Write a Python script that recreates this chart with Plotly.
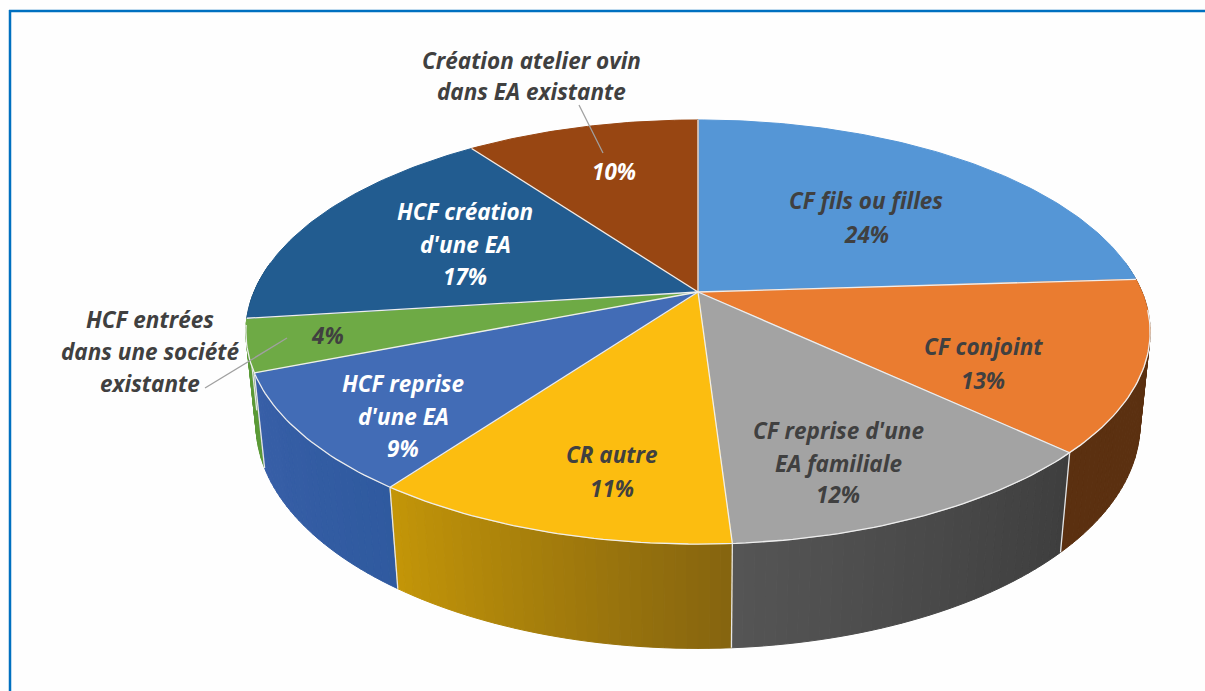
import math
import plotly.graph_objects as go

# ---- data ----
categories = ["CF fils ou filles", "CF conjoint", "CF reprise d'une EA familiale", "CR autre",
              "HCF reprise d'une EA", "HCF entrées dans une société existante",
              "HCF création d'une EA", "Création atelier ovin dans EA existante"]
values = [24, 13, 12, 11, 9, 4, 17, 10]
top_colors = ["#5596d6", "#ea7c30", "#a3a3a3", "#fcbd10", "#426cb6", "#6eaa45", "#225c90", "#984612"]
# wall shade at the slice's right-hand and left-hand screen ends
wall_start = ["#2f5a85", "#5b3010", "#3e3e3e", "#85640f", "#2f5a9f", "#5c9a38", "#16405f", "#5b3010"]
wall_end = ["#2f5a85", "#5b3010", "#555555", "#c49608", "#385fa8", "#5c9a38", "#16405f", "#5b3010"]

label_lines = [["CF fils ou filles", "24%"], ["CF conjoint", "13%"],
               ["CF reprise d'une", "EA familiale", "12%"], ["CR autre", "11%"],
               ["HCF reprise", "d'une EA", "9%"], ["4%"],
               ["HCF création", "d'une EA", "17%"], ["10%"]]
outside_lines = [["HCF entrées", "dans une société", "existante"],
                 ["Création atelier ovin", "dans EA existante"]]

# ---- layout of the picture ----
CX, CY, A, B, E = 698, 292, 444, 204.5, 0.1887
HEIGHT, WK = 92.5, 0.022
DARK, WHITE = "#404040", "#ffffff"
SEAM = "#eeeeee"
label_pos = [[(866, 200), (866, 234)], [(983, 346), (983, 380)],
             [(838, 430), (838, 463), (838, 494)], [(612, 454), (612, 488)],
             [(403, 383), (403, 416), (403, 448)], [(327, 335)],
             [(465, 211), (465, 244), (465, 276)], [(614, 171)]]
label_color = [DARK, DARK, DARK, DARK, WHITE, DARK, WHITE, WHITE]
outside_pos = [[(150, 319), (150, 351), (150, 383)], [(531, 60), (531, 91)]]
leaders = [((205, 388), (287, 338)), ((579, 105), (603, 153))]


def top(t):
    X, Y = math.sin(t), math.cos(t)
    w = 1 + E * Y
    return CX + A * X / w, CY - B * Y / w


def bottom(t):
    X, Y = math.sin(t), math.cos(t)
    w = 1 + E * Y + WK
    return CX + A * X / w, CY + (HEIGHT - B * Y) / w


def mix(c1, c2, f):
    a = [int(c1[i:i + 2], 16) for i in (1, 3, 5)]
    b = [int(c2[i:i + 2], 16) for i in (1, 3, 5)]
    return "rgb(%d,%d,%d)" % tuple(round(p + (q - p) * f) for p, q in zip(a, b))


total = sum(values)
bounds = [0]
for v in values:
    bounds.append(bounds[-1] + v / total * 2 * math.pi)

fig = go.Figure()


def poly(xs, ys, fill):
    fig.add_trace(go.Scatter(x=xs, y=ys, mode="lines", fill="toself", fillcolor=fill,
                             line=dict(color=fill, width=1), hoverinfo="skip", showlegend=False))


def stroke(xs, ys, color, width):
    fig.add_trace(go.Scatter(x=xs, y=ys, mode="lines", line=dict(color=color, width=width),
                             hoverinfo="skip", showlegend=False))


# side walls, far to near
strips = []
for i in range(len(values)):
    n = max(2, values[i] * 3)
    for k in range(n):
        a0 = bounds[i] + (bounds[i + 1] - bounds[i]) * k / n
        a1 = bounds[i] + (bounds[i + 1] - bounds[i]) * (k + 1) / n
        strips.append((math.cos((a0 + a1) / 2), a0, a1, mix(wall_start[i], wall_end[i], (k + .5) / n)))
for _, a0, a1, col in sorted(strips, key=lambda s: -s[0]):
    if math.cos((a0 + a1) / 2) > 0.15:
        continue
    p = [top(a0), top(a1), bottom(a1), bottom(a0), top(a0)]
    poly([q[0] for q in p], [q[1] for q in p], col)

# seams on the visible walls
for b in bounds[1:-1]:
    if math.cos(b) < 0:
        p, q = top(b), bottom(b)
        stroke([p[0], q[0]], [p[1], q[1]], "#e6e6e6", 1.3)

# top face
for i in range(len(values)):
    n = max(8, values[i] * 4)
    pts = [(CX, CY)] + [top(bounds[i] + (bounds[i + 1] - bounds[i]) * k / n) for k in range(n + 1)] + [(CX, CY)]
    poly([p[0] for p in pts], [p[1] for p in pts], top_colors[i])

# seams on the top face and light front rim
for b in bounds[:-1]:
    p = top(b)
    stroke([CX, p[0]], [CY, p[1]], SEAM, 1.3)
rim = [top(2 * math.pi * k / 360) for k in range(95, 262)]
stroke([p[0] for p in rim], [p[1] for p in rim], SEAM, 1.3)

# leader lines
for (p, q) in leaders:
    stroke([p[0], q[0]], [p[1], q[1]], "#a0a0a0", 1.3)

font = "Open Sans"


def put(text, pos, color):
    fig.add_annotation(x=pos[0], y=pos[1], text="<b><i>%s</i></b>" % text, showarrow=False,
                       xanchor="center", yanchor="middle",
                       font=dict(family=font, size=22.5, color=color))


for lines, poss, col in zip(label_lines, label_pos, label_color):
    for t, p in zip(lines, poss):
        put(t, p, col)
for lines, poss in zip(outside_lines, outside_pos):
    for t, p in zip(lines, poss):
        put(t, p, DARK)

# frame of the picture
FRAME = "#0070c0"
fig.add_shape(type="line", x0=10, x1=10, y0=10, y1=691, line=dict(color=FRAME, width=2.5))
fig.add_shape(type="line", x0=9, x1=1205, y0=11, y1=11, line=dict(color=FRAME, width=2.5))

fig.update_layout(width=1205, height=691, margin=dict(l=0, r=0, t=0, b=0),
                  paper_bgcolor="#fefefe", plot_bgcolor="#fefefe", showlegend=False,
                  xaxis=dict(range=[0, 1205], visible=False, fixedrange=True),
                  yaxis=dict(range=[691, 0], visible=False, fixedrange=True))
fig.write_html("out.html", config={"displayModeBar": False},
               post_script="document.body.style.margin='0';")
